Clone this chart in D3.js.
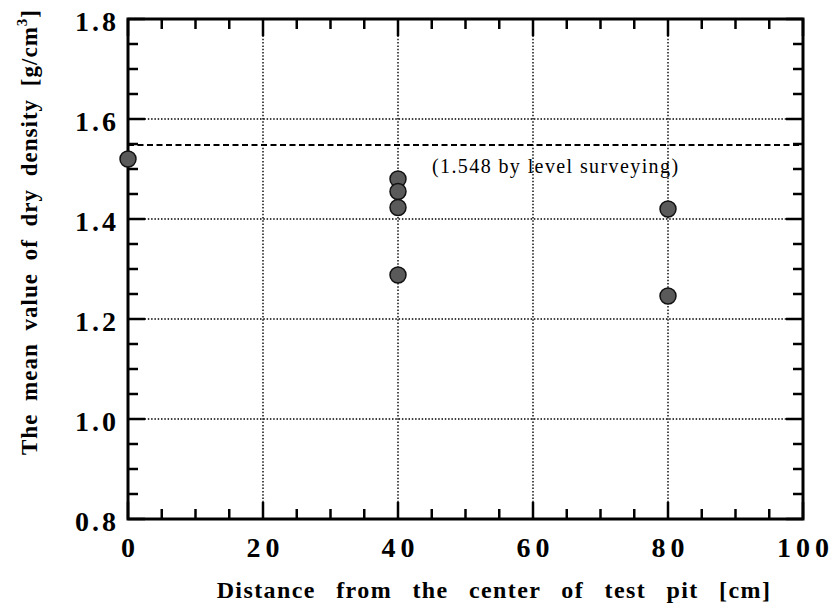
<!DOCTYPE html>
<html><head><meta charset="utf-8">
<script src="https://cdn.jsdelivr.net/npm/d3@7/dist/d3.min.js"></script>
<style>body{margin:0;background:#fff}svg{display:block}</style>
</head><body>
<svg id="c" width="833" height="608"></svg>
<script>
const distances = [0, 40, 40, 40, 40, 80, 80];
const densities = [1.52, 1.48, 1.455, 1.423, 1.288, 1.42, 1.246];
const xTicks = [0, 20, 40, 60, 80, 100];
const yTicks = [0.8, 1.0, 1.2, 1.4, 1.6, 1.8];
const refValue = [1.548];
const refLabel = ["(1.548 by level surveying)"];

const svg = d3.select("#c");
const L = 128, R = 803, T = 19, B = 519;
const x = d3.scaleLinear().domain([0, 100]).range([L, R]);
const y = d3.scaleLinear().domain([0.8, 1.8]).range([B, T]);
const serif = "'Liberation Serif','DejaVu Serif',serif";

// grid
const g = svg.append("g");
g.selectAll("line.vg").data(xTicks.slice(1, -1)).join("line")
  .attr("x1", d => x(d)).attr("x2", d => x(d)).attr("y1", T).attr("y2", B)
  .attr("stroke", "#000").attr("stroke-width", 1.4).attr("stroke-dasharray", "1.5,1.8");
g.selectAll("line.hg").data(yTicks.slice(1, -1)).join("line")
  .attr("x1", L).attr("x2", R).attr("y1", d => y(d)).attr("y2", d => y(d))
  .attr("stroke", "#000").attr("stroke-width", 1.4).attr("stroke-dasharray", "1.5,1.8");

// reference line
svg.selectAll("line.ref").data(refValue).join("line")
  .attr("x1", L).attr("x2", R).attr("y1", d => y(d)).attr("y2", d => y(d))
  .attr("stroke", "#000").attr("stroke-width", 2).attr("stroke-dasharray", "6,3.5");
svg.selectAll("text.ref").data(refLabel).join("text")
  .attr("x", 432).attr("y", y(refValue[0]) + 28)
  .attr("font-family", serif).attr("font-size", 20).attr("letter-spacing", 1.4).text(d => d);

// axes with inward ticks
const minorX = d3.range(0, 101, 5), minorY = d3.range(0.8, 1.8001, 0.05);
function ticksX(yy, dir) {
  svg.append("g").selectAll("line").data(minorX).join("line")
    .attr("x1", d => x(d)).attr("x2", d => x(d)).attr("y1", yy)
    .attr("y2", d => yy + dir * (Math.round(d) % 20 === 0 ? 17 : 10))
    .attr("stroke", "#000").attr("stroke-width", 2.5);
}
function ticksY(xx, dir) {
  svg.append("g").selectAll("line").data(minorY).join("line")
    .attr("y1", d => y(d)).attr("y2", d => y(d)).attr("x1", xx)
    .attr("x2", d => xx + dir * (Math.round(d * 100) % 20 === 0 ? 17 : 10))
    .attr("stroke", "#000").attr("stroke-width", 2.5);
}
ticksX(B, -1); ticksX(T, 1); ticksY(L, 1); ticksY(R, -1);
svg.append("rect").attr("x", L).attr("y", T).attr("width", R - L).attr("height", B - T)
  .attr("fill", "none").attr("stroke", "#000").attr("stroke-width", 3);

// tick labels
svg.append("g").selectAll("text").data(xTicks).join("text")
  .attr("x", d => x(d) + 2.5).attr("y", 557).attr("text-anchor", "middle")
  .attr("font-family", serif).attr("font-weight", "bold").attr("font-size", 28)
  .attr("letter-spacing", 5).text(d => d);
svg.append("g").selectAll("text").data(yTicks).join("text")
  .attr("x", 119).attr("y", d => y(d) + 12).attr("text-anchor", "end")
  .attr("font-family", serif).attr("font-weight", "bold").attr("font-size", 28)
  .attr("letter-spacing", 3).text(d => d.toFixed(1));

// axis titles
svg.append("text").attr("x", 494).attr("y", 598).attr("text-anchor", "middle")
  .attr("font-family", serif).attr("font-weight", "bold").attr("font-size", 24)
  .attr("letter-spacing", 1.4).attr("word-spacing", 13)
  .text("Distance from the center of test pit [cm]");
const yt = svg.append("text").attr("transform", "translate(37,232) rotate(-90)")
  .attr("text-anchor", "middle").attr("font-family", serif).attr("font-weight", "bold")
  .attr("font-size", 23).attr("letter-spacing", 1).attr("word-spacing", 6);
yt.append("tspan").text("The mean value of dry density [g/cm");
yt.append("tspan").attr("dy", -10).attr("font-size", 15).text("3");
yt.append("tspan").attr("dy", 10).text("]");

// points
svg.append("g").selectAll("circle").data(distances).join("circle")
  .attr("cx", d => x(d)).attr("cy", (d, i) => y(densities[i])).attr("r", 8)
  .attr("fill", "#5a5a5a").attr("stroke", "#111").attr("stroke-width", 1.5);
</script>
</body></html>
